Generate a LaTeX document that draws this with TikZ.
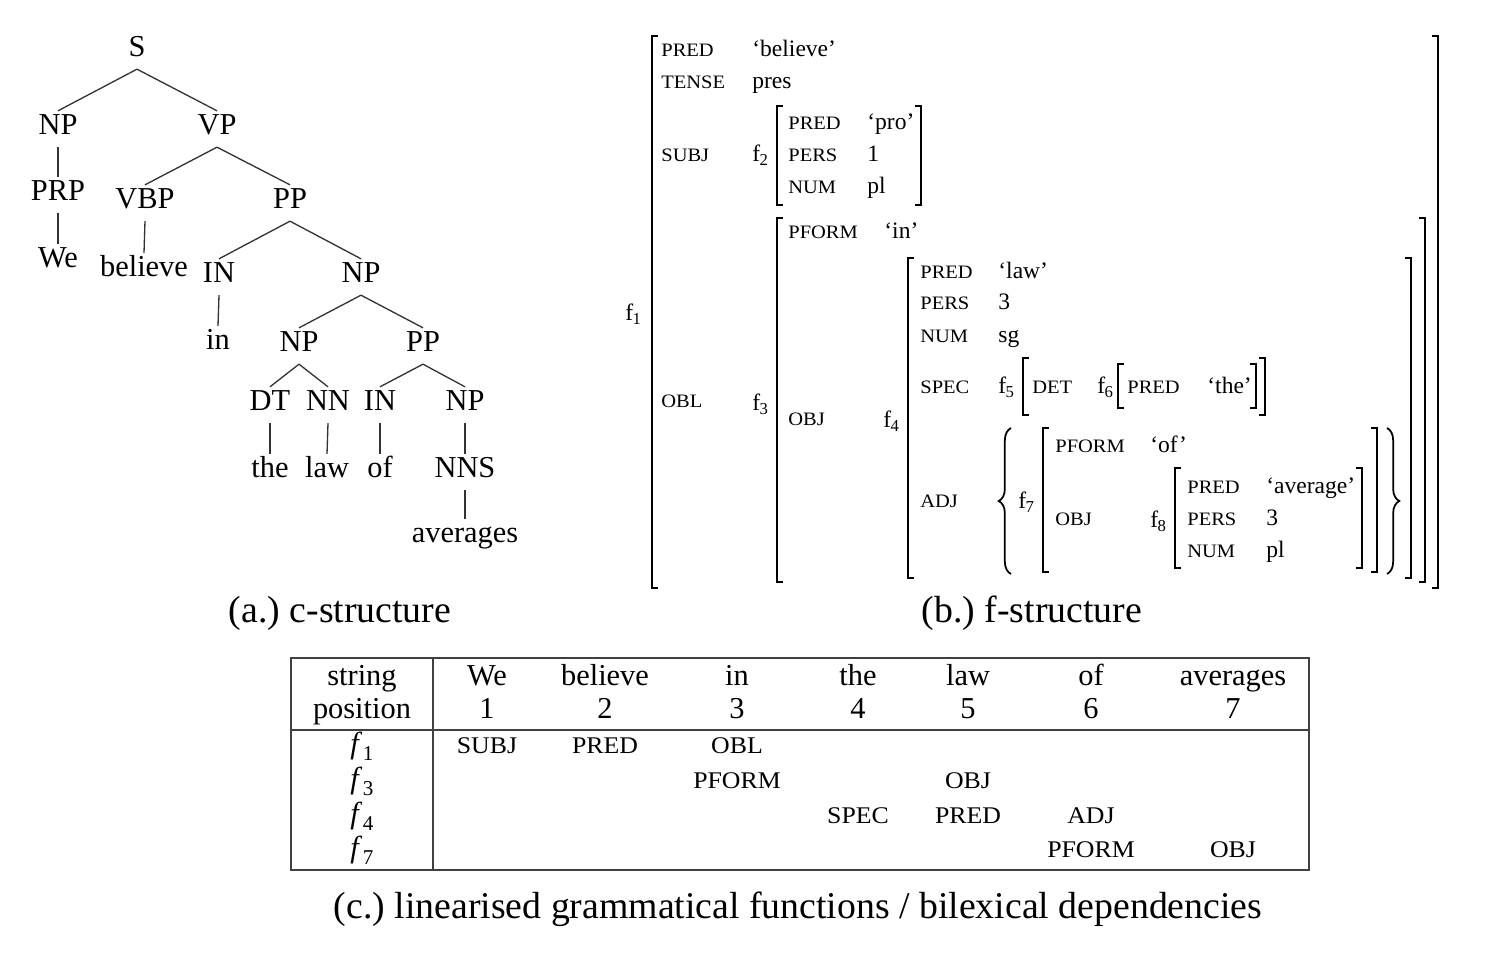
\documentclass[tikz,border=0pt]{standalone}
\usepackage{fontspec}
\setmainfont{Liberation Serif}
\newfontfamily\featfont[FakeStretch=1.08]{Liberation Serif}
\usetikzlibrary{decorations.pathreplacing}
\tikzset{
  cat/.style={
    anchor=base,
    font=\fontsize{17.3}{19}\selectfont,
    inner xsep=1pt,
    inner ysep=2.3pt,
    text height=10.7pt,
    text depth=5pt
  },
  edge/.style={
    line width=0.75pt,
    black!80
  },
  feat/.style={
    anchor=base west,
    inner sep=0pt,
    font=\featfont\fontsize{10.8}{12}\selectfont
  },
  val/.style={
    anchor=base west,
    inner sep=0pt,
    font=\fontsize{13.4}{15}\selectfont
  },
  brk/.style={
    line width=0.75pt
  },
  brace/.style={
    line width=1pt,
    decorate,
    decoration={brace, amplitude=7pt}
  },
  caption/.style={
    anchor=base,
    font=\fontsize{21.5}{24}\selectfont\frenchspacing
  },
  cell/.style={
    anchor=base,
    inner sep=0pt,
    font=\fontsize{17.3}{19}\selectfont
  },
  tfeat/.style={
    anchor=base,
    inner sep=0pt,
    font=\featfont\fontsize{13.6}{15}\selectfont
  },
  grid/.style={
    line width=0.9pt,
    black!75
  }
}
% f-structure label and table label
\newcommand\flab[1]{f\kern-0.3pt\raisebox{-0.45ex}{\fontsize{9.5}{10}\selectfont #1}}
\newcommand\tlab[1]{\textit{f}\kern0.3pt\raisebox{-0.55ex}{\fontsize{12}{12}\selectfont #1}}
% attribute-value matrix brackets: left x, right x, top, bottom
\newcommand\avm[4]{%
  \draw[brk] (#1+6,#3) -- (#1,#3) -- (#1,#4) -- (#1+6,#4);
  \draw[brk] (#2-6,#3) -- (#2,#3) -- (#2,#4) -- (#2-6,#4);}

\begin{document}
\begin{tikzpicture}[x=0.02cm,y=-0.02cm]
\useasboundingbox (0,0) rectangle (1500,954);

% (a.) c-structure
\node[cat] (S) at (137,56) {S};
\node[cat] (np1) at (58,134) {NP};
\node[cat] (vp) at (217,134) {VP};
\node[cat] (prp) at (58,200) {PRP};
\node[cat] (vbp) at (145,208) {VBP};
\node[cat] (pp1) at (290,208) {PP};
\node[cat] (we) at (58,267) {We};
\node[cat] (believe) at (144,276) {believe};
\node[cat] (in1) at (219,282) {IN};
\node[cat] (np2) at (361,282) {NP};
\node[cat] (in) at (218,349) {in};
\node[cat] (np3) at (299,351) {NP};
\node[cat] (pp2) at (423,351) {PP};
\node[cat] (dt) at (270,410) {DT};
\node[cat] (nn) at (328,410) {NN};
\node[cat] (in2) at (380,410) {IN};
\node[cat] (np4) at (465,410) {NP};
\node[cat] (the) at (270,477) {the};
\node[cat] (law) at (327,477) {law};
\node[cat] (of) at (380,477) {of};
\node[cat] (nns) at (465,477) {NNS};
\node[cat] (averages) at (465,542) {averages};

\foreach \a/\b in {S/np1, S/vp, np1/prp, prp/we, vp/vbp, vp/pp1, vbp/believe,
    pp1/in1, pp1/np2, in1/in, np2/np3, np2/pp2, np3/dt, np3/nn, pp2/in2, pp2/np4,
    dt/the, nn/law, in2/of, np4/nns, nns/averages}
  \draw[edge] (\a.south) -- (\b.north);

\node[caption] (capa) at (340,622) {(a.) c-structure};

% (b.) f-structure
\avm{652}{1438}{36}{588}
\avm{777}{921}{106}{205}
\avm{777}{1425}{218}{582}
\avm{908}{1411}{258}{578}
\avm{1023}{1265}{358}{415}
\avm{1118}{1256}{364}{408}
\avm{1043}{1377}{428}{572}
\avm{1175}{1362}{468}{568}
\draw[brace] (1011,574) -- (1011,428);
\draw[brace] (1387,428) -- (1387,574);

\node[val] (f1) at (625,320) {\flab{1}};
\node[val] (f2) at (752,161) {\flab{2}};
\node[val] (f3) at (752,410) {\flab{3}};
\node[val] (f4) at (883,427) {\flab{4}};
\node[val] (f5) at (998,393) {\flab{5}};
\node[val] (f6) at (1097,393) {\flab{6}};
\node[val] (f7) at (1018,508) {\flab{7}};
\node[val] (f8) at (1150,527) {\flab{8}};

\foreach \n/\x/\y/\t in {a1/661/56/PRED, a2/661/88/TENSE, a3/661/161/SUBJ, a4/661/407/OBL,
    b1/788/129/PRED, b2/788/161/PERS, b3/788/193/NUM,
    c1/788/238/PFORM, c2/788/425/OBJ,
    d1/920/278/PRED, d2/920/309/PERS, d3/920/342/NUM, d4/920/393/SPEC, d5/920/507/ADJ,
    e1/1032/393/DET, g1/1127/393/PRED,
    h1/1055/452/PFORM, h2/1055/525/OBJ,
    k1/1187/493/PRED, k2/1187/525/PERS, k3/1187/557/NUM}
  \node[feat] (\n) at (\x,\y) {\t};

\foreach \n/\x/\y/\t in {a1v/752/56/‘believe’, a2v/752/88/pres,
    b1v/867/129/‘pro’, b2v/867/161/1, b3v/867/193/pl,
    c1v/884/238/‘in’,
    d1v/998/278/‘law’, d2v/998/309/3, d3v/998/342/sg,
    g1v/1207/393/‘the’, h1v/1150/452/‘of’,
    k1v/1266/493/‘average’, k2v/1266/525/3, k3v/1266/557/pl}
  \node[val] (\n) at (\x,\y) {\t};

\node[caption] (capb) at (1032,622) {(b.) f-structure};

% (c.) linearised table
\draw[grid] (291,658) rectangle (1309,870);
\draw[grid] (433,658) -- (433,870);
\draw[grid] (291,730) -- (1309,730);

\node[cell] (hd1) at (362,685) {string};
\node[cell] (hd2) at (362,718) {position};
\foreach \n/\x/\w/\i in {w1/487/We/1, w2/605/believe/2, w3/737/in/3, w4/858/the/4,
    w5/968/law/5, w6/1091/of/6, w7/1233/averages/7} {
  \node[cell] (\n) at (\x,685) {\w};
  \node[cell] (\n n) at (\x,718) {\i};
}
\foreach \n/\y/\i in {r1/753/1, r3/788/3, r4/823/4, r7/857/7}
  \node[cell] (\n) at (362,\y) {\tlab{\i}};

\foreach \n/\x/\y/\t in {t1/487/753/SUBJ, t2/605/753/PRED, t3/737/753/OBL,
    t4/737/788/PFORM, t5/968/788/OBJ,
    t6/858/823/SPEC, t7/968/823/PRED, t8/1091/823/ADJ,
    t9/1091/857/PFORM, t10/1233/857/OBJ}
  \node[tfeat] (\n) at (\x,\y) {\t};

\node[caption] (capc) at (798,918) {(c.) linearised grammatical functions / bilexical dependencies};

\end{tikzpicture}
\end{document}
